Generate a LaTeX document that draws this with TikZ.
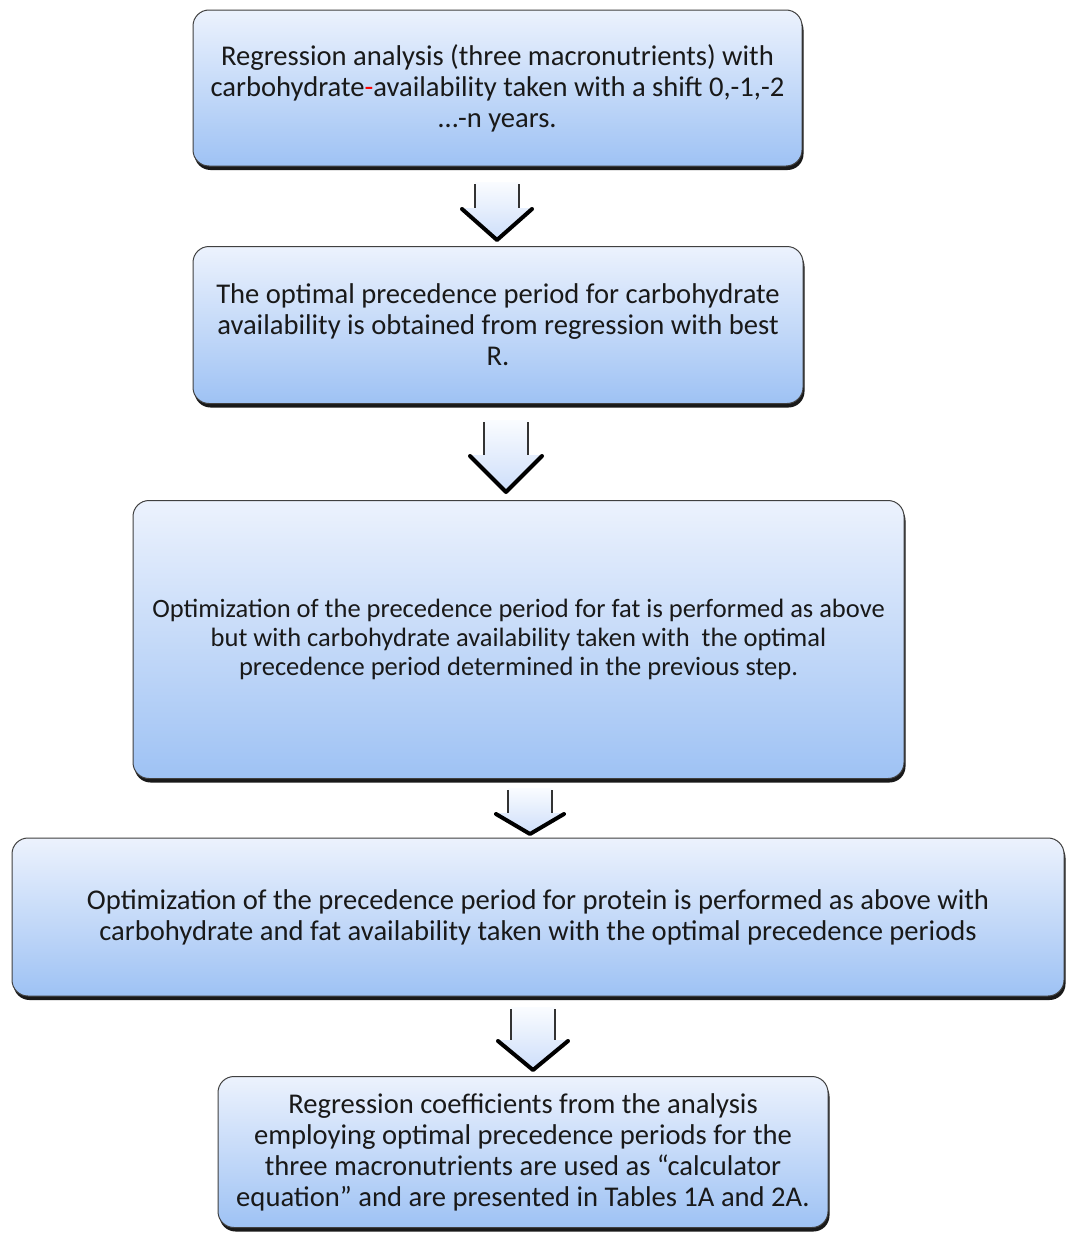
\documentclass[tikz,border=0pt]{standalone}
\usepackage{fontspec}
\setmainfont{Carlito}
\usetikzlibrary{shadows,calc}
\definecolor{boxtop}{RGB}{236,242,253}
\definecolor{boxbot}{RGB}{158,194,244}
\definecolor{arrtop}{RGB}{250,252,255}
\definecolor{arrbot}{RGB}{205,222,250}
\definecolor{txt}{RGB}{25,25,25}
\newcommand\blockarrow[7]{% name, cx, shaft top, head base, tip, shaft half, head half
  \coordinate (#1) at (#2,#5);
  \shade[top color=arrtop, bottom color=arrbot]
    (#2-#6,#3) -- (#2+#6,#3) -- (#2+#6,#4) -- (#2+#7,#4) -- (#2,#5) -- (#2-#7,#4) -- (#2-#6,#4) -- cycle;
  \draw[black!80, line width=1.8pt] (#2-#6,#3+2) -- (#2-#6,#4);
  \draw[black!80, line width=1.8pt] (#2+#6,#3+2) -- (#2+#6,#4);
  \draw[black, line width=4pt, line join=round, line cap=round] (#2-#7,#4+1) -- (#2,#5) -- (#2+#7,#4+1);
}
\tikzset{
  flowbox/.style={draw=black!75, line width=1pt, rounded corners=16pt,
    top color=boxtop, bottom color=boxbot, align=center, text=txt,
    general shadow={fill=black!90, shadow xshift=1.5pt, shadow yshift=-4pt},
    font=\fontsize{28.6}{31}\selectfont, inner sep=0pt},
}
\begin{document}
\begin{tikzpicture}[x=1pt,y=-1pt]
\useasboundingbox (0,0) rectangle (1068,1234);
\fill[white] (0,0) rectangle (1068,1234);

\node[flowbox, minimum width=609pt, minimum height=156pt] (b1) at (497.5,88)
  {Regression analysis (three macronutrients) with\\
   carbohydrate\textcolor{red}{-}availability taken\ with a shift 0,-1,-2\\
   \ldots-n years.};

\node[flowbox, minimum width=610pt, minimum height=157pt] (b2) at (498,325)
  {The optimal precedence period for carbohydrate\\
   availability is obtained from regression with best\\
   R.};

\node[flowbox, minimum width=771pt, minimum height=278pt, font=\fontsize{26.5}{29}\selectfont] (b3) at (518.5,639.5)
  {Optimization of the precedence period for fat is performed as above\\
   but with carbohydrate availability taken with\ \ the optimal\\
   precedence period determined in the previous step.};

\node[flowbox, minimum width=1052pt, minimum height=158pt] (b4) at (538,917)
  {Optimization of the precedence period for protein is performed as above with\\
   carbohydrate and fat availability taken with the optimal precedence periods};

\node[flowbox, minimum width=610pt, minimum height=151pt] (b5) at (523,1152)
  {Regression coefficients from the analysis\\
   employing optimal precedence periods for the\\
   three macronutrients are used as ``calculator\\
   equation'' and are presented in Tables 1A and 2A.};

\blockarrow{a1}{497}{182}{208}{240}{22}{35}
\blockarrow{a2}{506}{420}{455}{492}{22}{36}
\blockarrow{a3}{530}{788}{813}{834}{22}{34}
\blockarrow{a4}{533}{1007}{1040}{1070}{22}{35}
\end{tikzpicture}
\end{document}
